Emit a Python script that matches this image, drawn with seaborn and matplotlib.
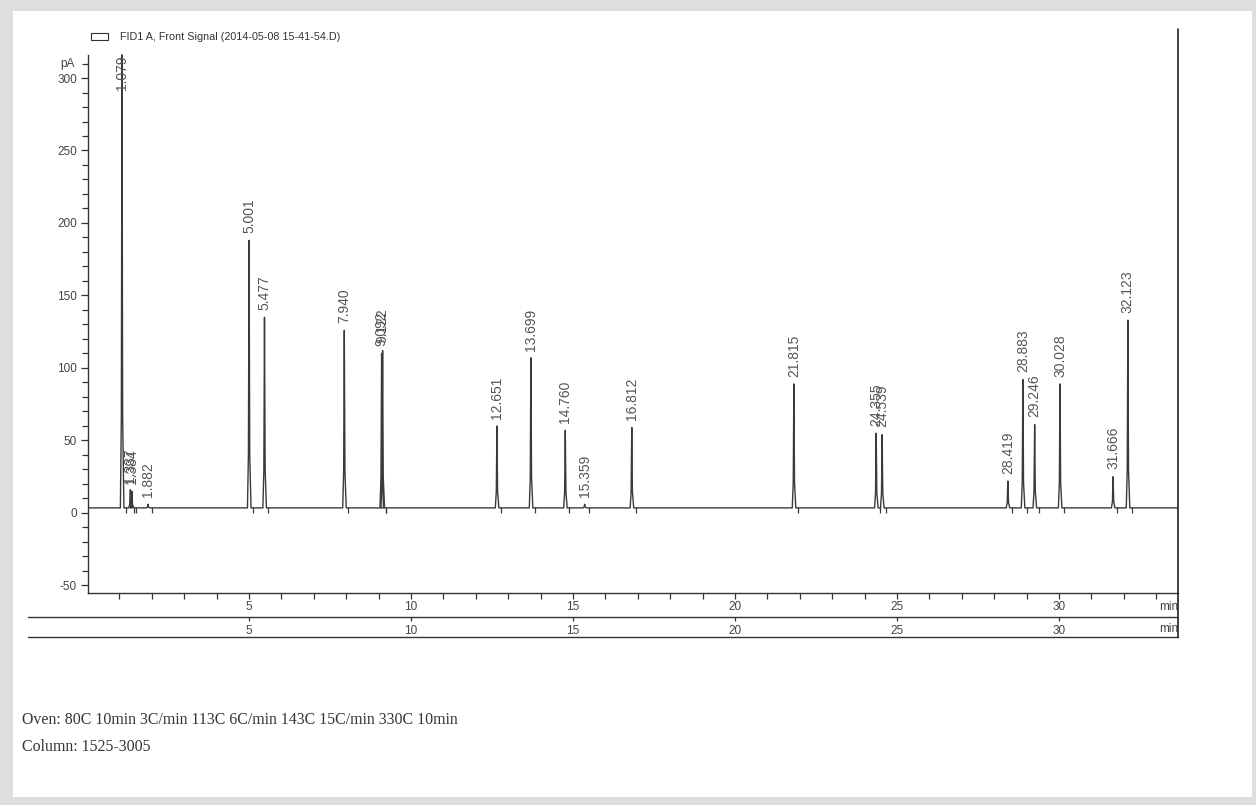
import numpy as np
import seaborn as sns
import matplotlib.pyplot as plt
from matplotlib.patches import Rectangle
from matplotlib.lines import Line2D

# peak table (retention time in min, apex signal in pA)
retention_times = [1.079, 1.337, 1.384, 1.882, 5.001, 5.477, 7.940, 9.092, 9.122,
                   12.651, 13.699, 14.760, 15.359, 16.812, 21.815, 24.355, 24.539,
                   28.419, 28.883, 29.246, 30.028, 31.666, 32.123]
peak_heights = [316, 16, 15, 6, 188, 135, 126, 110, 112,
                60, 107, 57, 6, 59, 89, 55, 54,
                22, 92, 61, 89, 25, 133]
baseline = 3.5

y_major = [-50, 0, 50, 100, 150, 200, 250, 300]
x_major = [5, 10, 15, 20, 25, 30]

legend_label = 'FID1 A, Front Signal (2014-05-08 15-41-54.D)'
note_lines = ['Oven: 80C 10min 3C/min 113C 6C/min 143C 15C/min 330C 10min',
              'Column: 1525-3005']

W, H = 1256, 805
sns.set_style('ticks')
plt.rcParams['font.family'] = ['Liberation Sans', 'DejaVu Sans']
plt.rcParams['axes.unicode_minus'] = False

fig = plt.figure(figsize=(W / 100, H / 100), dpi=100, facecolor='#dddee0')
fig.patches.append(Rectangle((13 / W, 1 - 797 / H), (1252 - 13) / W, (797 - 11) / H,
                             transform=fig.transFigure, facecolor='white',
                             edgecolor='none', zorder=-10))

ax = fig.add_axes([88 / W, 1 - 593 / H, (1178 - 88) / W, (593 - 29) / H])
ax.set_facecolor('none')

# build the trace: flat baseline with a narrow spike at each retention time
t, s = [], []
for rt, h in zip(retention_times, peak_heights):
    t += [rt - 0.05, rt - 0.02, rt, rt + 0.02, rt + 0.06]
    s += [baseline, baseline + 0.2 * (h - baseline), h, baseline + 0.2 * (h - baseline), baseline]
t = [0.0] + t + [34.0]
s = [baseline] + s + [baseline]
sns.lineplot(x=t, y=s, sort=False, estimator=None, color='#3a3a3a', lw=1.0, ax=ax)

# integration end markers
rts = np.array(retention_times)
ax.vlines(rts + 0.12, baseline - 3.5, baseline + 0.5, color='#3a3a3a', lw=0.9)

# peak labels
for rt, h in zip(retention_times, peak_heights):
    ax.text(rt, min(h + 5, 292), f'{rt:.3f}', rotation=90, ha='center', va='bottom',
            fontsize=10, color='#555555', clip_on=True)

ax.set_xlim(0.03, 33.67)
ax.set_ylim(-55.2, 333.8)

for side in ['top', 'right']:
    ax.spines[side].set_visible(False)
for side in ['left', 'bottom']:
    ax.spines[side].set_color('#333333')
    ax.spines[side].set_linewidth(1.0)
ax.spines['left'].set_bounds(-55.2, 316)

ax.set_yticks(y_major)
ax.set_yticks(np.arange(-50, 311, 10), minor=True)
ax.set_xticks(x_major)
ax.set_xticks(np.arange(1, 34, 1), minor=True)
ax.tick_params(which='both', direction='out', color='#333333', width=0.9,
               left=True, bottom=True, labelsize=8.5, labelcolor='#444444')
ax.tick_params(axis='y', which='major', length=5, pad=3)
ax.tick_params(axis='y', which='minor', length=4)
ax.tick_params(axis='x', which='major', length=4, pad=2)
ax.tick_params(axis='x', which='minor', length=4)
ax.set_xlabel('')
ax.set_ylabel('')
ax.text(-0.012, 310, 'pA', transform=ax.get_yaxis_transform(), ha='right', va='center',
        fontsize=8.5, color='#444444')
ax.text(33.67, -0.025, 'min', transform=ax.get_xaxis_transform(), ha='right', va='center',
        fontsize=8.5, color='#444444')

# second time axis underneath
sec = ax.secondary_xaxis(-24 / 564)
sec.set_xticks(x_major)
sec.spines['bottom'].set_visible(False)
sec.tick_params(direction='out', length=3, pad=3, color='#333333', width=0.9,
                labelsize=8.5, labelcolor='#444444')
ax.text(33.67, -0.064, 'min', transform=ax.get_xaxis_transform(), ha='right', va='center',
        fontsize=8.5, color='#444444')

# frame lines of the report layout
for y in [617, 637]:
    fig.add_artist(Line2D([28 / W, 1178 / W], [1 - y / H, 1 - y / H], color='#333333', lw=1.0))
fig.add_artist(Line2D([1178 / W, 1178 / W], [1 - 29 / H, 1 - 637 / H], color='#222222', lw=1.2))

# legend box
fig.patches.append(Rectangle((91 / W, 1 - 40 / H), 17 / W, 7 / H, transform=fig.transFigure,
                             facecolor='white', edgecolor='#333333', lw=0.8))
fig.text(120 / W, 1 - 37 / H, legend_label, fontsize=7.75, color='#333333', va='center')

# method notes
for i, line in enumerate(note_lines):
    fig.text(22 / W, 1 - (720 + 27 * i) / H, line, family='Liberation Serif',
             fontsize=11.4, color='#333333', va='center')

fig.savefig('out.png', dpi=100, facecolor=fig.get_facecolor())
